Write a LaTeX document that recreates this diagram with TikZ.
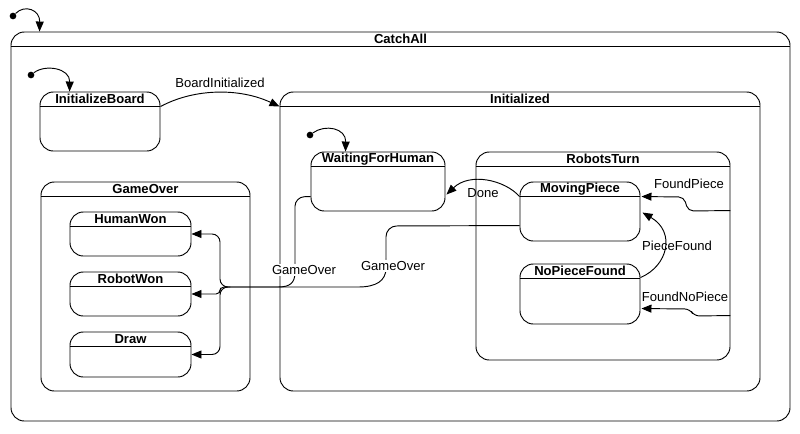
\documentclass[tikz,border=0pt]{standalone}
\usepackage{fontspec}
\setmainfont{Liberation Sans}
\usetikzlibrary{arrows.meta,calc,fit}
\tikzset{
  statebox/.style={draw, rounded corners=10pt, inner sep=0pt, line width=0.7pt},
  titletext/.style={font=\fontsize{9.8}{11}\selectfont\bfseries, inner sep=0pt},
  trlabel/.style={font=\fontsize{9.8}{11}\selectfont, inner sep=1pt},
  tr/.style={-{Triangle[length=7.5pt,width=6pt]}, line width=0.7pt},
  initdot/.style={circle, fill, inner sep=0pt, minimum size=5pt},
}
\newcommand{\umlstate}[6]{%
  \coordinate (#1-a) at (#3,#4);
  \coordinate (#1-b) at (#5,#6);
  \node[statebox, fit=(#1-a)(#1-b)] (#1) {};
  \draw[line width=0.7pt] ($(#1.north west)+(0,14.5)$) -- ($(#1.north east)+(0,14.5)$);
  \node[titletext] at ($(#1.north)+(0,7.5)$) {#2};
}
\begin{document}
\begin{tikzpicture}[x=0.75pt,y=-0.75pt]
\useasboundingbox (0,0) rectangle (800,433);
\umlstate{catchall}{CatchAll}{11}{32}{790}{421}
\umlstate{initboard}{InitializeBoard}{40}{92}{160}{151}
\umlstate{initialized}{Initialized}{280}{92}{760}{391}
\umlstate{waiting}{WaitingForHuman}{311}{152}{445}{211}
\umlstate{robotsturn}{RobotsTurn}{476}{152}{730}{360}
\umlstate{movingpiece}{MovingPiece}{520}{182}{640}{241}
\umlstate{nopiecefound}{NoPieceFound}{520}{264}{640}{324}
\umlstate{gameover}{GameOver}{41}{182}{250}{391}
\umlstate{humanwon}{HumanWon}{70}{212}{191}{256}
\umlstate{robotwon}{RobotWon}{70}{272}{191}{316}
\umlstate{tie}{Draw}{70}{332}{191}{377}

\node[initdot] (dot0) at (13,16) {};
\draw[tr] (dot0) .. controls (25,4) and (40,10) .. ($(catchall.north west)+(29,0)$);
\node[initdot] (dot1) at (31,75) {};
\draw[tr] (dot1) .. controls (45,64) and (70,68) .. ($(initboard.north west)+(30,0)$);
\node[initdot] (dot2) at (310,135) {};
\draw[tr] (dot2) .. controls (325,124) and (346,128) .. ($(waiting.north west)+(35,0)$);

\draw[tr] ($(initboard.north east)+(0,15)$) .. controls (195,88) and (240,88) .. ($(initialized.north west)+(0,15)$);
\node[trlabel] (lbboard) at (220,83) {BoardInitialized};

\draw[tr] ($(movingpiece.north west)+(0,15)$) .. controls (505,180) and (470,172) .. ($(waiting.north east)+(1,43)$);
\node[trlabel] (lbdone) at (483,193) {Done};

\draw[tr, rounded corners=4pt] ($(robotsturn.north east)+(0,59)$) -- (688,211) -- (684,197) -- ($(movingpiece.north east)+(1,15)$);
\node[trlabel] (lbfound) at (689,184) {FoundPiece};

\draw[tr] ($(nopiecefound.north east)+(0,14)$) .. controls (668,266) and (676,232) .. ($(movingpiece.north east)+(2,31)$);
\node[trlabel] (lbpiece) at (677,246) {PieceFound};

\draw[tr, rounded corners=4pt] ($(robotsturn.north east)+(0,164)$) -- (694,316) -- (690,309) -- ($(nopiecefound.north east)+(1,45)$);
\node[trlabel] (lbnopiece) at (685,297) {FoundNoPiece};

\coordinate (gojoin) at (230,287);
\draw[line width=0.7pt, rounded corners=7pt] ($(waiting.north west)+(0,45)$) -- (295,197) -- (295,262);
\draw[line width=0.7pt] (295,262) -- (295,272) .. controls (295,283) and (290,287) .. (278,287) -- (gojoin);
\draw[line width=0.7pt, rounded corners=8pt] ($(movingpiece.north west)+(0,44)$) -- (386,226) -- (386,258);
\draw[line width=0.7pt] (386,258) -- (386,268) .. controls (386,281) and (376,287) .. (358,287) -- (gojoin);
\node[trlabel, fill=white] (lbover1) at (304,270) {GameOver};
\node[trlabel, fill=white] (lbover2) at (393,266) {GameOver};

\draw[tr, rounded corners=6pt] (gojoin) -- ++(-10,0) |- (humanwon.east);
\draw[tr, rounded corners=3pt] (gojoin) -- ++(-10,0) |- (robotwon.east);
\draw[tr, rounded corners=6pt] (gojoin) -- ++(-10,0) |- (tie.east);
\end{tikzpicture}
\end{document}
